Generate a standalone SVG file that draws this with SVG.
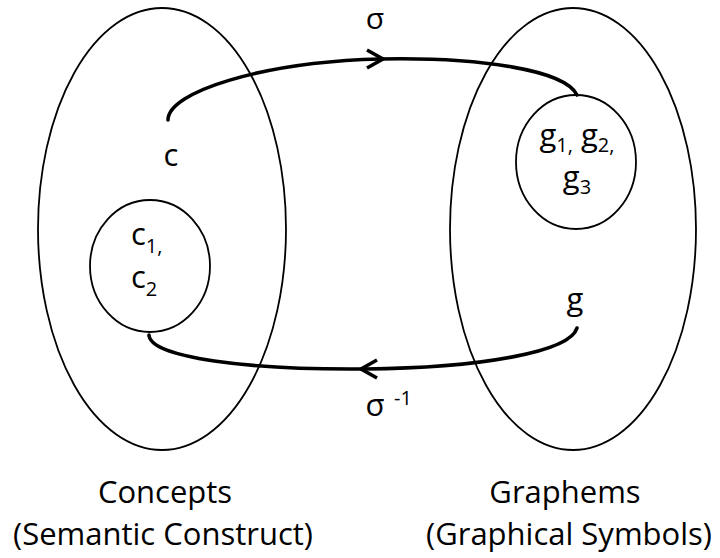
<svg xmlns="http://www.w3.org/2000/svg" width="720" height="558" viewBox="0 0 720 558">
<style>
.big{fill:none;stroke:#000;stroke-width:1.8}
.small{fill:#fff;stroke:#000;stroke-width:1.8}
.arr{fill:none;stroke:#000;stroke-width:3.6;stroke-linecap:round}
.head{fill:none;stroke:#000;stroke-width:3.6;stroke-linecap:butt;stroke-linejoin:miter}
text{font-family:"Open Sans","Noto Sans","Liberation Sans",sans-serif;fill:#000}
.lbl{font-size:31px}
.sig{font-size:30px}
.sub{font-size:20px}
</style>
<rect width="720" height="558" fill="#fff"/>
<g id="concepts">
  <ellipse class="big" cx="162" cy="229" rx="124" ry="221"/>
  <text class="lbl" x="165" y="503" text-anchor="middle">Concepts</text>
  <text class="lbl" x="163" y="545" text-anchor="middle">(Semantic Construct)</text>
</g>
<g id="graphems">
  <ellipse class="big" cx="573" cy="229" rx="123" ry="221"/>
  <text class="lbl" x="565" y="503" text-anchor="middle">Graphems</text>
  <text class="lbl" x="569" y="545" text-anchor="middle">(Graphical Symbols)</text>
</g>
<g id="c-set">
  <ellipse class="small" cx="150" cy="266" rx="60" ry="66"/>
  <text class="lbl" x="131" y="245">c<tspan class="sub" dy="8">1,</tspan></text>
  <text class="lbl" x="131" y="288">c<tspan class="sub" dy="8">2</tspan></text>
</g>
<g id="g-set">
  <ellipse class="small" cx="576" cy="162" rx="60" ry="67"/>
  <text class="lbl" x="577" y="146" text-anchor="middle">g<tspan class="sub" dy="6">1,</tspan><tspan dy="-6"> g</tspan><tspan class="sub" dy="6">2,</tspan></text>
  <text class="lbl" x="577" y="188" text-anchor="middle">g<tspan class="sub" dy="6">3</tspan></text>
</g>
<g id="c">
  <text class="lbl" x="171" y="166" text-anchor="middle">c</text>
</g>
<g id="g">
  <text class="lbl" x="575" y="310" text-anchor="middle">g</text>
</g>
<g id="connectors">
  <path class="arr" d="M168,120 C168,92 262,62 380,59 C480,57 565,70 577,95"/>
  <polyline class="head" points="367,50 383,59 367,68"/>
  <text class="sig" x="375" y="29" text-anchor="middle">σ</text>
  <path class="arr" d="M577,328 C570,352 480,368 365,369 C250,370 150,358 149,335"/>
  <polyline class="head" points="377,360 361,369 377,378"/>
  <text class="lbl" x="375" y="416" text-anchor="middle">σ</text>
  <text class="sub" x="403" y="405" text-anchor="middle">-1</text>
</g>
</svg>
